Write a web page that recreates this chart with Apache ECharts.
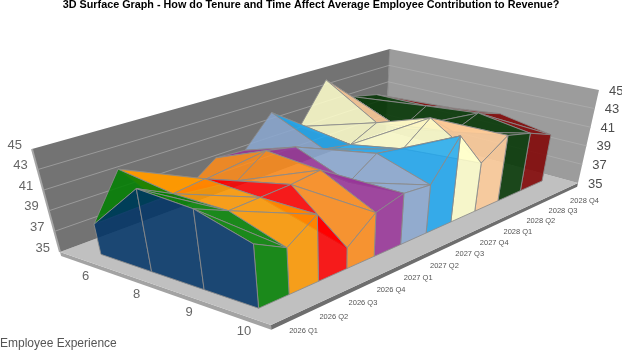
<!DOCTYPE html>
<html>
<head>
<meta charset="utf-8">
<style>
	html, body { margin: 0; background: #fff; }
	#chart { width: 622px; height: 351px; }
</style>
<script src="https://cdn.jsdelivr.net/npm/echarts@6/dist/echarts.min.js"></script>
</head>
<body>
<div id="chart"></div>
<script>
const chartTitle = '3D Surface Graph - How do Tenure and Time Affect Average Employee Contribution to Revenue?'
const expTitle = 'Employee Experience'
const experience = ['6', '8', '9', '10']
const quarters = ['2026 Q1', '2026 Q2', '2026 Q3', '2026 Q4', '2027 Q1', '2027 Q2', '2027 Q3', '2027 Q4', '2028 Q1', '2028 Q2', '2028 Q3', '2028 Q4']
const valueTicks = [35, 37, 39, 41, 43, 45]
const exp6 = [37.9, 42.2, 38.1, 38.3, 40.3, 40.1, 43.2, 40.7, 45, 42.2, 41.5, 40.1]
const exp8 = [42.7, 41.2, 41.6, 40.4, 42.4, 41.8, 40.6, 40.1, 41.5, 39.9, 41.5, 40.4]
const exp9 = [42.2, 41, 41.2, 41.4, 41.8, 39.6, 41.5, 41, 43.3, 40.9, 42, 41]
const exp10 = [40.5, 39.1, 41, 36.9, 39.1, 39.9, 39.7, 43.6, 39.9, 41.8, 41.1, 40]
const surface = [exp6, exp8, exp9, exp10]
// first colour is the Q1 end cap, the others go with the bands between quarters
const bandColors = ['#003366', '#008000', '#ff9900', '#ff0000', '#ff8c1a', '#993399', '#8aa8d0', '#1ea7f0', '#ffffcc', '#ffcc99', '#003300', '#800000']

// the floor as seen on the page [left, front, right, back]
const floorQuad = [[60, 252], [271, 325], [578, 183], [386, 131]]
// verticals converge on this point below the page
const verticalVanish = [334.5, 1262]
// wall height in pixels at the left, right and back corners
const heightLeft = 103
const heightRight = 93
const heightBack = 82

const homography = q => {
	const [[x0, y0], [x1, y1], [x2, y2], [x3, y3]] = q
	const dx1 = x1 - x2, dx2 = x3 - x2, sx = x0 - x1 + x2 - x3
	const dy1 = y1 - y2, dy2 = y3 - y2, sy = y0 - y1 + y2 - y3
	const den = dx1 * dy2 - dx2 * dy1
	const g = (sx * dy2 - dx2 * sy) / den
	const h = (dx1 * sy - sx * dy1) / den
	return (u, v) => {
		const k = g * u + h * v + 1
		return [
			((x1 - x0 + g * x1) * u + (x3 - x0 + h * x3) * v + x0) / k,
			((y1 - y0 + g * y1) * u + (y3 - y0 + h * y3) * v + y0) / k,
		]
	}
}
const floorAt = homography(floorQuad)

// u runs from exp 6 to exp 10, v from 2026 Q1 to 2028 Q4, w from 35 to 45
const project = (u, v, w) => {
	const f = floorAt(u, v)
	const depth = 1 / heightLeft + (1 / heightRight - 1 / heightBack) * u + (1 / heightBack - 1 / heightLeft) * v
	const rise = w / depth
	const lean = (f[0] - verticalVanish[0]) / (verticalVanish[1] - f[1])
	return [f[0] + lean * rise, f[1] - rise]
}
const valueToW = val => (val - 35) / 10
const rowU = i => (i + 0.5) / experience.length
const colV = j => (j + 0.5) / quarters.length
const peak = (i, j) => project(rowU(i), colV(j), valueToW(surface[i][j]))
const foot = (i, j) => project(rowU(i), colV(j), 0)

const faces = []
const addFace = (points, fill, stroke, lineWidth) => faces.push({ points, fill, stroke, lineWidth })

// walls and floor
const slab = -0.04
addFace([project(0, 0, slab), project(1, 0, slab), project(1, 0, 0), project(0, 0, 0)], '#a3a3a3', 'none', 0)
addFace([project(1, 0, slab), project(1, 1, slab), project(1, 1, 0), project(1, 0, 0)], '#6e6e6e', 'none', 0)
addFace([project(0, 0, 0), project(1, 0, 0), project(1, 1, 0), project(0, 1, 0)], '#c0c0c0', 'none', 0)
addFace([project(0, 0, 0), project(0, 1, 0), project(0, 1, 1), project(0, 0, 1)], '#737373', 'none', 0)
addFace([project(0, 1, 0), project(1, 1, 0), project(1, 1, 1), project(0, 1, 1)], '#9c9c9c', 'none', 0)
addFace([project(0, 0, 0), project(0, 0, 1)], 'none', '#a6a6a6', 2)
addFace([project(0, 1, 0), project(0, 1, 1)], 'none', '#8a8a8a', 1)
valueTicks.slice(1, -1).forEach(t => {
	const w = valueToW(t)
	addFace([project(0, 0, w), project(0, 1, w)], 'none', '#9a9a9a', 1)
	addFace([project(0, 1, w), project(1, 1, w)], 'none', '#aaaaaa', 1)
})

// surface, far band first
const lastRow = experience.length - 1
const lastCol = quarters.length - 1
const alpha = 0.86
const meshColor = '#8b8b8b'
for (let j = lastCol - 1; j >= 0; j--) {
	const color = bandColors[j + 1]
	for (let i = 0; i < lastRow; i++) {
		addFace([peak(i, j), peak(i, j + 1), peak(i + 1, j + 1)], color, meshColor, 1)
		addFace([peak(i, j), peak(i + 1, j), peak(i + 1, j + 1)], color, meshColor, 1)
	}
	addFace([foot(lastRow, j), foot(lastRow, j + 1), peak(lastRow, j + 1), peak(lastRow, j)], color, meshColor, 1)
}
for (let i = 0; i < lastRow; i++) {
	addFace([foot(i, 0), foot(i + 1, 0), peak(i + 1, 0), peak(i, 0)], bandColors[0], meshColor, 1)
}

// text labels
const labels = []
valueTicks.forEach(t => {
	const w = valueToW(t)
	const l = project(0, 0, w)
	const r = project(1, 1, w)
	labels.push({ text: String(t), x: l[0] - 10, y: l[1] - 4, align: 'right', size: 13, fill: '#666666' })
	labels.push({ text: String(t), x: r[0] + 10, y: r[1] + 1, align: 'left', size: 13, fill: '#4d4d4d' })
})
experience.forEach((name, i) => {
	const p = project(rowU(i), 0, 0)
	labels.push({ text: name, x: p[0] + 1, y: p[1] + 16, align: 'center', size: 13, fill: '#666666' })
})
quarters.forEach((name, j) => {
	const p = project(1, colV(j), 0)
	labels.push({ text: name, x: p[0] + 17, y: p[1] + 13, align: 'center', size: 7.5, fill: '#555555' })
})

const chart = echarts.init(document.getElementById('chart'))
chart.setOption({
	animation: false,
	title: [
		{
			text: chartTitle,
			left: 'center',
			top: 0,
			padding: 0,
			textStyle: { fontFamily: 'Liberation Sans', fontSize: 10.8, fontWeight: 'bold', color: '#000' },
		},
		{
			text: expTitle,
			left: 0,
			top: 338,
			padding: 0,
			textStyle: { fontFamily: 'Liberation Sans', fontSize: 12, fontWeight: 'normal', color: '#555' },
		},
	],
	grid: { left: 0, right: 0, top: 0, bottom: 0 },
	xAxis: { type: 'value', min: 0, max: 622, show: false },
	yAxis: { type: 'value', min: 0, max: 351, inverse: true, show: false },
	series: [
		{
			type: 'custom',
			silent: true,
			clip: false,
			data: faces.map((f, k) => [k]),
			renderItem: (params, api) => {
				const f = faces[params.dataIndex]
				const points = f.points.map(p => api.coord(p))
				const isFill = f.fill !== 'none'
				const isSurface = f.stroke === meshColor
				return {
					type: isFill ? 'polygon' : 'polyline',
					shape: { points },
					style: {
						fill: isFill ? f.fill : null,
						stroke: f.stroke === 'none' ? null : f.stroke,
						lineWidth: f.lineWidth,
						opacity: isSurface ? alpha : 1,
					},
				}
			},
		},
		{
			type: 'custom',
			silent: true,
			clip: false,
			data: labels.map((l, k) => [k]),
			renderItem: (params, api) => {
				const l = labels[params.dataIndex]
				const p = api.coord([l.x, l.y])
				return {
					type: 'text',
					style: {
						x: p[0],
						y: p[1],
						text: l.text,
						fill: l.fill,
						align: l.align,
						verticalAlign: 'middle',
						font: l.size + 'px "Liberation Sans"',
					},
				}
			},
		},
	],
})
</script>
</body>
</html>
